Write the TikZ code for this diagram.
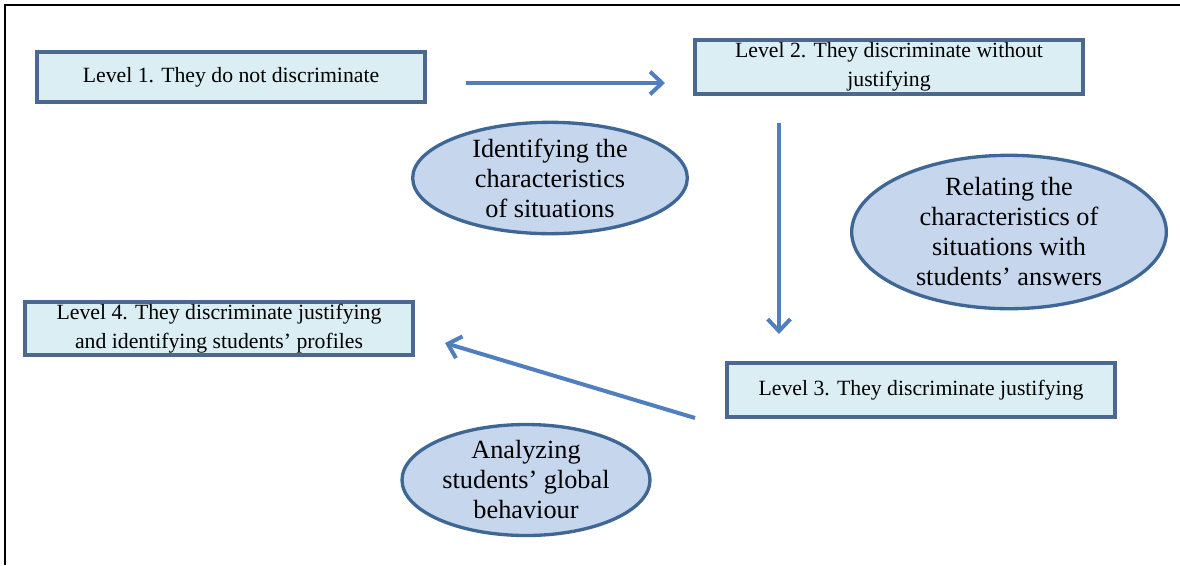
\documentclass[tikz,border=0pt]{standalone}
\usepackage{fontspec}
\setmainfont{Liberation Serif}
\usetikzlibrary{arrows.meta,shapes.geometric}
\definecolor{boxline}{HTML}{4A6890}
\definecolor{boxfill}{HTML}{DBEEF4}
\definecolor{ellline}{HTML}{3F6795}
\definecolor{ellfill}{HTML}{C6D6EC}
\definecolor{arrcol}{HTML}{4F7FBF}
\tikzset{
  levelbox/.style={draw=boxline, fill=boxfill, line width=2.8pt, rectangle,
    minimum width=291pt, align=center, inner sep=1pt,
    font=\fontsize{16.3pt}{21.5pt}\selectfont},
  actell/.style={draw=ellline, fill=ellfill, line width=2.5pt, ellipse,
    align=center, inner sep=0pt,
    font=\fontsize{19.7pt}{22.5pt}\selectfont},
  flow/.style={draw=arrcol, line width=3pt,
    -{Straight Barb[length=9pt,width=17pt,line width=3pt]}},
}
\begin{document}
\begin{tikzpicture}[x=0.75pt,y=-0.75pt]
\useasboundingbox (0,0) rectangle (1180,565);
\draw[line width=2pt] (5,565) -- (5,5) -- (1180,5);

\node[levelbox, minimum height=37.5pt] (l1) at (231,77) {Level 1. They do not discriminate};
\node[levelbox, minimum height=40.5pt] (l2) at (889,67) {Level 2. They discriminate without\\justifying};
\node[levelbox, minimum height=40.5pt] (l3) at (921,390) {Level 3. They discriminate justifying};
\node[levelbox, minimum height=40pt] (l4) at (219,328.5) {Level 4. They discriminate justifying\\and identifying students' profiles};

\node[actell, minimum width=206pt, minimum height=80pt] (e1) at (550,178) {Identifying the\\characteristics\\of situations};
\node[actell, minimum width=236pt, minimum height=111pt] (e2) at (1009,232) {Relating the\\characteristics of\\situations with\\students' answers};
\node[actell, minimum width=186pt, minimum height=79pt] (e3) at (526,480) {Analyzing\\students' global\\behaviour};

\coordinate (a1s) at (466,83);
\coordinate (a1e) at (665,83);
\coordinate (a2s) at (779,123);
\coordinate (a2e) at (779,334);
\coordinate (a3s) at (695,418);
\coordinate (a3e) at (445,343);
\draw[flow] (a1s) -- (a1e);
\draw[flow] (a2s) -- (a2e);
\draw[flow] (a3s) -- (a3e);
\end{tikzpicture}
\end{document}
